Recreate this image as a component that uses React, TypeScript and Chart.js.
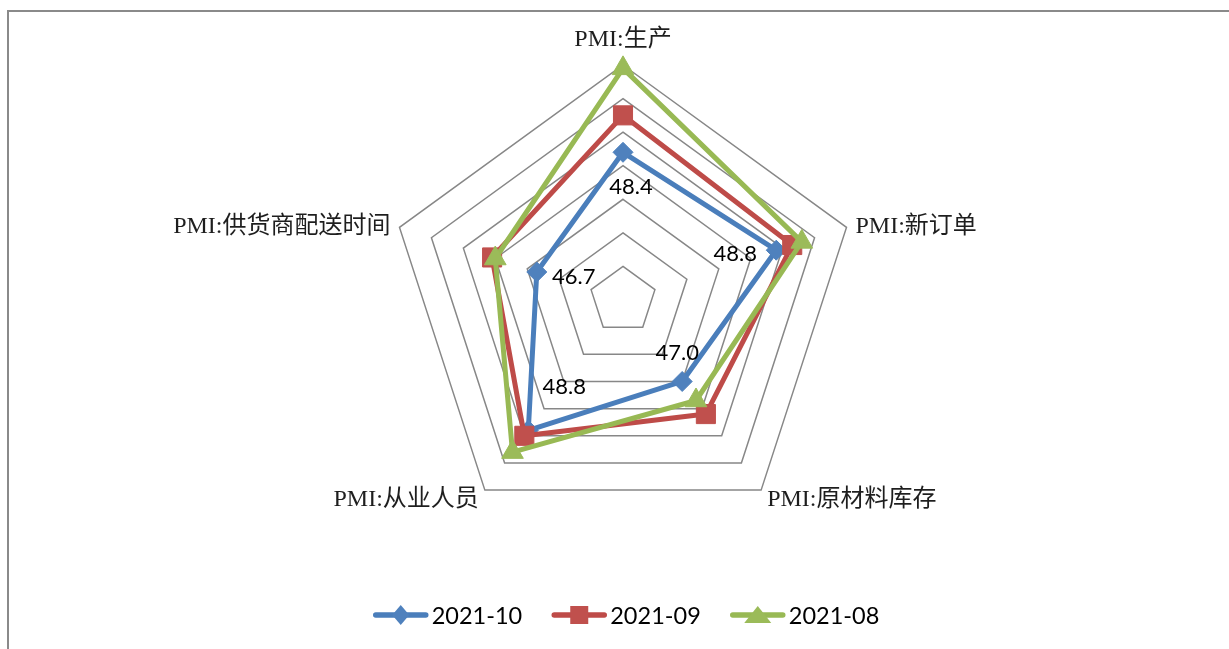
import React, { useEffect, useRef } from 'react';
import { Chart, registerables } from 'chart.js';

Chart.register(...registerables);

// ---- data ----
const categories = ['PMI:生产', 'PMI:新订单', 'PMI:原材料库存', 'PMI:从业人员', 'PMI:供货商配送时间'];
const seriesNames = ['2021-10', '2021-09', '2021-08'];
const values202110 = [48.4, 48.8, 47.0, 48.8, 46.7];
const values202109 = [49.5, 49.3, 48.2, 49.0, 48.1];
const values202108 = [50.9, 49.6, 47.7, 49.6, 48.0];
const axisMin = 44;
const axisMax = 51;
const axisStep = 1;

// ---- style ----
const lineColors = ['#4A7EBB', '#BE4B48', '#98B954'];
const markerColors = ['#4F81BD', '#C0504D', '#9BBB59'];
const pointStyles = ['rectRot', 'rect', 'triangle'];
const pointRadii = [10, 13.5, 12.5];
// offsets (px) of the 2021-10 data labels relative to their points
const labelOffsets = [
  [8, 35],
  [-41, 4],
  [-5, -29],
  [36, -43],
  [37, 5],
];
const CAT_FONT = "24px 'Liberation Serif', 'Noto Sans CJK SC'";
const NUM_FONT = "22px Lato, 'Liberation Sans', sans-serif";
const LEGEND_FONT = "23.5px Lato, 'Liberation Sans', sans-serif";

function drawMarker(ctx: CanvasRenderingContext2D, style: string, x: number, y: number, color: string) {
  ctx.save();
  ctx.fillStyle = color;
  ctx.beginPath();
  if (style === 'rectRot') {
    ctx.moveTo(x, y - 10);
    ctx.lineTo(x + 8.5, y);
    ctx.lineTo(x, y + 10);
    ctx.lineTo(x - 8.5, y);
  } else if (style === 'rect') {
    ctx.rect(x - 9, y - 9, 18, 18);
  } else {
    ctx.moveTo(x, y - 9);
    ctx.lineTo(x + 13.5, y + 8);
    ctx.lineTo(x - 13.5, y + 8);
  }
  ctx.closePath();
  ctx.fill();
  ctx.restore();
}

export default function App() {
  const ref = useRef<HTMLCanvasElement>(null);

  useEffect(() => {
    const canvas = ref.current;
    if (!canvas) return;

    const textPlugin = {
      id: 'excelText',
      afterDatasetsDraw(chart: any) {
        const ctx: CanvasRenderingContext2D = chart.ctx;
        const scale = chart.scales.r;
        ctx.save();

        // category labels
        ctx.font = CAT_FONT;
        ctx.fillStyle = '#1e1e1e';
        ctx.textBaseline = 'middle';
        categories.forEach((label, i) => {
          const p = scale.getPointPosition(i, scale.drawingArea);
          const c = Math.cos(p.angle);
          const s = Math.sin(p.angle);
          let x = p.x;
          let y = p.y;
          if (Math.abs(c) < 0.1) {
            ctx.textAlign = 'center';
            y = p.y + (s < 0 ? -25 : 25);
          } else {
            ctx.textAlign = c > 0 ? 'left' : 'right';
            const bottom = s > 0.5;
            x = p.x + (c > 0 ? 1 : -1) * (bottom ? 6 : 9);
            y = p.y + (bottom ? 10 : -1);
          }
          ctx.fillText(label, x, y);
        });

        // data labels for first series
        ctx.font = NUM_FONT;
        ctx.fillStyle = '#000';
        ctx.textAlign = 'center';
        const meta = chart.getDatasetMeta(0);
        meta.data.forEach((pt: any, i: number) => {
          const off = labelOffsets[i];
          ctx.fillText(values202110[i].toFixed(1), pt.x + off[0], pt.y + off[1]);
        });

        // legend
        ctx.font = LEGEND_FONT;
        const lineW = 56;
        const gapText = 3;
        const gapItem = 29;
        const widths = seriesNames.map((n) => ctx.measureText(n).width);
        const total = widths.reduce((a, w) => a + lineW + gapText + w, 0) + gapItem * (seriesNames.length - 1);
        let x = 626 - total / 2;
        const ly = 615;
        seriesNames.forEach((name, i) => {
          ctx.save();
          ctx.strokeStyle = lineColors[i];
          ctx.lineWidth = 5.5;
          ctx.lineCap = 'round';
          ctx.beginPath();
          ctx.moveTo(x + 3, ly);
          ctx.lineTo(x + lineW - 3, ly);
          ctx.stroke();
          ctx.restore();
          drawMarker(ctx, pointStyles[i], x + lineW / 2, ly, markerColors[i]);
          ctx.fillStyle = '#000';
          ctx.textAlign = 'left';
          ctx.textBaseline = 'middle';
          ctx.fillText(name, x + lineW + gapText, ly + 1);
          x += lineW + gapText + widths[i] + gapItem;
        });

        ctx.restore();
      },
    };

    const allValues = [values202110, values202109, values202108];
    const chart = new Chart(canvas, {
      type: 'radar',
      data: {
        labels: categories,
        datasets: seriesNames.map((name, i) => ({
          label: name,
          data: allValues[i],
          borderColor: lineColors[i],
          backgroundColor: markerColors[i],
          borderWidth: 5,
          borderJoinStyle: 'round' as const,
          fill: false,
          tension: 0,
          pointStyle: pointStyles[i] as any,
          pointRadius: pointRadii[i],
          pointBackgroundColor: markerColors[i],
          pointBorderColor: markerColors[i],
          pointBorderWidth: 1,
          order: 3 - i,
        })),
      },
      options: {
        responsive: false,
        animation: false,
        layout: { padding: { left: 117, right: 100, top: 65, bottom: 114 } },
        plugins: {
          legend: { display: false },
          tooltip: { enabled: false },
        },
        scales: {
          r: {
            min: axisMin,
            max: axisMax,
            beginAtZero: false,
            ticks: { display: false, stepSize: axisStep },
            grid: { color: '#878787', lineWidth: 1.5, circular: false },
            angleLines: { display: false },
            pointLabels: { display: false },
          },
        },
      },
      plugins: [textPlugin],
    });

    return () => chart.destroy();
  }, []);

  return (
    <div
      style={{
        position: 'absolute',
        left: 0,
        top: 0,
        width: 1229,
        height: 649,
        overflow: 'hidden',
        background: '#fff',
      }}
    >
      <div
        style={{
          position: 'absolute',
          left: 7,
          top: 10,
          width: 1300,
          height: 800,
          border: '2px solid #8a8a8a',
        }}
      />
      <canvas
        ref={ref}
        width={1229}
        height={649}
        style={{ position: 'absolute', left: 0, top: 0, width: 1229, height: 649 }}
      />
    </div>
  );
}
